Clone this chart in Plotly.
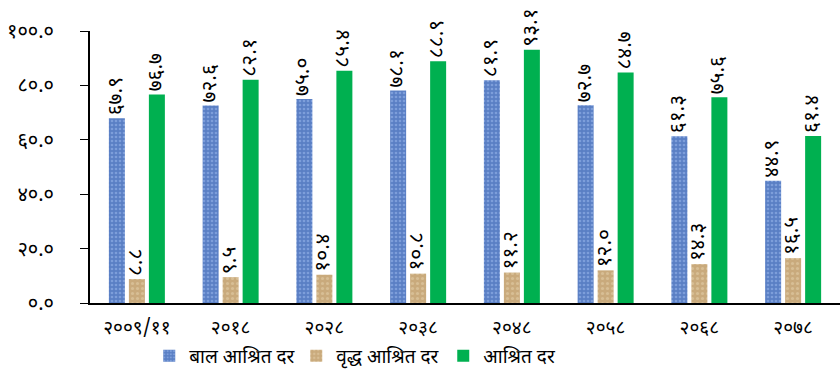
"""Nepal dependency ratio by census year (grouped bars)."""
import plotly.graph_objects as go

years = ['२००९/११', '२०१८', '२०२८', '२०३८', '२०४८', '२०५८', '२०६८', '२०७८']
child_ratio = [67.9, 72.6, 75.0, 78.1, 81.9, 72.7, 61.3, 44.9]
old_ratio = [8.8, 9.5, 10.4, 10.8, 11.2, 12.0, 14.3, 16.5]
total_ratio = [76.7, 82.1, 85.4, 88.9, 93.1, 84.7, 75.6, 61.4]
series_names = ['बाल आश्रित दर', 'वृद्ध आश्रित दर', 'आश्रित दर']
y_ticks = [0, 20, 40, 60, 80, 100]

_DEV = str.maketrans('0123456789', '०१२३४५६७८९')


def dev(v):
    return f'{v:.1f}'.translate(_DEV)


FONT = 'Noto Sans Devanagari, Noto Sans, sans-serif'

fig = go.Figure()
styles = [
    dict(color='#5a7fc4', pattern=dict(shape='.', fgcolor='#9fbdf0', size=4, solidity=0.35)),
    dict(color='#c9aa7c', pattern=dict(shape='.', fgcolor='#e6d2ae', size=5, solidity=0.3)),
    dict(color='#00b050'),
]
for name, vals, mk in zip(series_names, [child_ratio, old_ratio, total_ratio], styles):
    fig.add_trace(go.Bar(
        name=name,
        x=years,
        y=vals,
        marker=dict(line=dict(width=0), **mk),
        text=[dev(v) for v in vals],
        textposition='outside',
        textangle=-90,
        textfont=dict(size=21, color='black', family=FONT),
        cliponaxis=False,
    ))

fig.update_layout(
    barmode='group',
    bargap=0.36,
    bargroupgap=0.2,
    width=840, height=374,
    margin=dict(l=90, r=0, t=31, b=71, autoexpand=False),
    plot_bgcolor='white',
    paper_bgcolor='white',
    font=dict(family=FONT, size=17, color='black'),
    uniformtext=dict(minsize=21, mode='show'),
    xaxis=dict(
        showline=True, linecolor='black', linewidth=2,
        ticks='', tickfont=dict(size=19),
        ticklabelstandoff=6,
        automargin=False,
    ),
    yaxis=dict(
        range=[0, 100],
        tickvals=y_ticks,
        ticktext=[dev(v) for v in y_ticks],
        showline=True, linecolor='black', linewidth=2,
        ticks='outside', ticklen=8, tickcolor='black',
        showgrid=False, zeroline=False,
        tickfont=dict(size=20),
        ticklabelstandoff=22,
        automargin=False,
    ),
    legend=dict(
        orientation='h', x=0.079, y=-0.125, xanchor='left', yanchor='top',
        entrywidth=102, itemwidth=30,
        font=dict(size=19),
        traceorder='normal',
        tracegroupgap=0,
    ),
    showlegend=True,
)

# the page body has a default 8px margin; drop it so the figure fills the window
fig.write_html('out.html', config={'displayModeBar': False},
               post_script="document.body.style.margin='0';")
